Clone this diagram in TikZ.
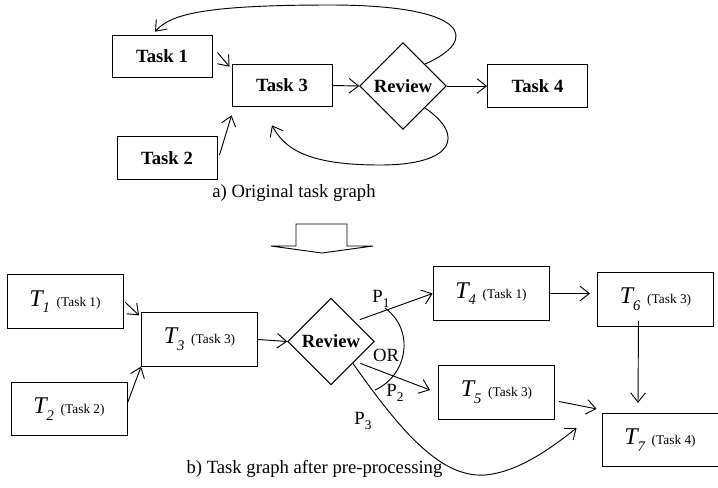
\documentclass[tikz,border=0pt]{standalone}
\usepackage{fontspec}
\setmainfont{Liberation Serif}
\usetikzlibrary{shapes.geometric,arrows.meta,calc}

\newcommand{\tlabel}[2]{{\fontsize{18}{18}\selectfont\itshape T}\raisebox{-5pt}{\fontsize{11}{11}\selectfont\itshape #1}\hspace{5pt}{\fontsize{10}{10}\selectfont(#2)}}
\newcommand{\plabel}[1]{P\raisebox{-4pt}{\fontsize{10}{10}\selectfont #1}}

\begin{document}
\begin{tikzpicture}[x=0.75pt,y=-0.75pt,line width=0.7pt,
    taskbox/.style={draw,rectangle,minimum width=75pt,minimum height=32pt,
      font=\fontsize{14}{16}\selectfont\bfseries},
    tbox/.style={draw,rectangle,minimum width=87pt,minimum height=40pt},
    decision/.style={draw,diamond,aspect=1,minimum size=65pt,inner sep=0pt,
      font=\fontsize{14}{16}\selectfont\bfseries},
    arr/.style={-{Straight Barb[length=7pt,width=11pt]}},
    lbl/.style={font=\fontsize{14}{16}\selectfont,inner sep=1pt}]
  \useasboundingbox (0,0) rectangle (718,487);

  % a) original graph
  \node[taskbox] (task1) at (162,56.5) {Task 1};
  \node[taskbox] (task2) at (167,158) {Task 2};
  \node[taskbox] (task3) at (282,85.5) {Task 3};
  \node[decision] (review1) at (403,86) {Review};
  \node[taskbox] (task4) at (537.5,86) {Task 4};
  \node[lbl] (capa) at (294,193) {a) Original task graph};

  \draw[arr] ($(task1.east)+(5,-4)$) -- ($(task3.north west)+(-2,3)$);
  \draw[arr] ($(task2.east)+(2,-3)$) -- ($(task3.south west)+(0,8)$);
  \draw[arr] (task3.east) -- (review1.west);
  \draw[arr] (review1.east) -- (task4.west);
  \draw[arr] (review1.north east) .. controls (480,40) and (470,5) .. (330,5)
    .. controls (200,5) and (170,15) .. ($(task1.north)+(-7,-3)$);
  \draw[arr] (review1.south east) .. controls (465,135) and (455,165) .. (380,165)
    .. controls (310,165) and (285,150) .. ($(task3.south)+(-10,18)$);

  % big arrow
  \draw (296,224) -- (347,224) -- (347,246) -- (373,246) -- (322,253)
    -- (271,246) -- (296,246) -- cycle;

  % b) after pre-processing
  \node[tbox] (t1) at (65,301.5) {\tlabel{1}{Task 1}};
  \node[tbox] (t2) at (69,409) {\tlabel{2}{Task 2}};
  \node[tbox] (t3) at (199.5,339.5) {\tlabel{3}{Task 3}};
  \node[decision] (review2) at (331,341.5) {Review};
  \node[tbox] (t4) at (491,293.5) {\tlabel{4}{Task 1}};
  \node[tbox] (t5) at (496.5,392.5) {\tlabel{5}{Task 3}};
  \node[tbox] (t6) at (655.5,299.5) {\tlabel{6}{Task 3}};
  \node[tbox] (t7) at (660,440) {\tlabel{7}{Task 4}};
  \node[lbl] (p1) at (381,299) {\plabel{1}};
  \node[lbl] (p2) at (395,393) {\plabel{2}};
  \node[lbl] (p3) at (363,421) {\plabel{3}};
  \node[lbl] (or) at (386,355) {OR};
  \node[lbl] (capb) at (314.5,469) {b) Task graph after pre-processing};

  \draw[arr] ($(t1.east)+(2,1)$) -- ($(t3.north west)+(-2,3)$);
  \draw[arr] ($(t2.east)+(0,-6)$) -- (t3.south west);
  \draw[arr] (t3.east) -- (review2.west);
  \draw[arr] ($(review2.north east)+(7,0)$) -- (t4.west);
  \draw[arr] ($(review2.south east)+(7.5,0)$) -- ($(t5.west)+(-8,-2.5)$);
  \draw[arr] (review2.south east) .. controls (400,430) and (440,478) .. (485,475)
    .. controls (520,472) and (555,445) .. ($(t7.west)+(-25,-12)$);
  \draw (385,308) .. controls (415,330) and (408,375) .. (375,390);
  \draw[arr] (t4.east) -- ($(t4.east -| t6.west)+(-7,0)$);
  \draw[arr] ($(t5.east)+(4,9)$) -- ($(t7.north west)+(-5,-4)$);
  \draw[arr] ($(t6.south)+(-17,-6)$) -- ($(t7.north)+(-22,-10)$);
\end{tikzpicture}
\end{document}
